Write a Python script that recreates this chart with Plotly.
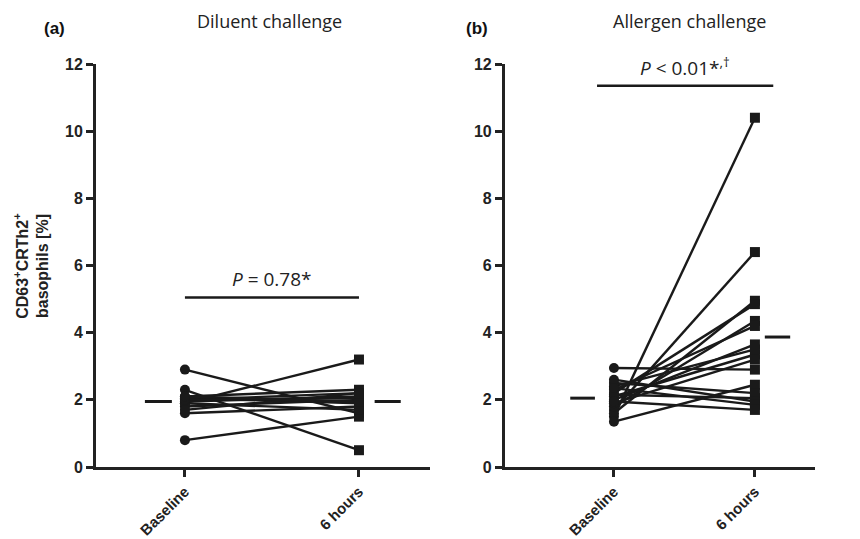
import plotly.graph_objects as go

# ---- data ----
categories = ["Baseline", "6 hours"]
diluent_baseline = [2.9, 2.3, 0.8, 1.9, 2.1, 2.0, 1.95, 2.05, 1.8, 1.6, 1.9, 2.0, 2.1, 1.7]
diluent_6h       = [1.6, 0.5, 1.5, 3.2, 2.3, 2.2, 2.1, 1.9, 2.0, 1.8, 1.7, 2.05, 1.95, 2.2]
allergen_baseline = [1.5, 1.7, 1.6, 2.2, 1.8, 2.3, 2.0, 2.4, 2.1, 1.9, 2.95, 1.35, 2.5, 2.15, 2.6, 2.35, 1.95]
allergen_6h       = [10.4, 6.4, 4.95, 4.85, 4.35, 4.2, 3.65, 3.5, 3.35, 3.2, 2.9, 2.45, 2.2, 2.05, 1.95, 1.85, 1.7]
diluent_means = [1.95, 1.95]
allergen_means = [2.05, 3.87]
y_ticks = [0, 2, 4, 6, 8, 10, 12]
titles = ["Diluent challenge", "Allergen challenge"]
p_texts = ["<i>P</i> = 0.78*", "<i>P</i> &lt; 0.01*<sup>,†</sup>"]
sig_levels = [5.05, 11.35]

INK = "#1a1a1a"
fig = go.Figure()

panels = [
    ("x", "y", diluent_baseline, diluent_6h, diluent_means),
    ("x2", "y2", allergen_baseline, allergen_6h, allergen_means),
]
mean_offsets = [((-0.23, -0.075), (1.09, 1.24)), ((-0.31, -0.135), (1.07, 1.25))]
sig_x = [(0.0, 1.0), (-0.12, 1.13)]

for i, (xa, ya, b, s, m) in enumerate(panels):
    for bv, sv in zip(b, s):
        fig.add_trace(go.Scatter(x=[0, 1], y=[bv, sv], xaxis=xa, yaxis=ya, mode="lines",
                                 line=dict(color=INK, width=2.4), showlegend=False,
                                 hoverinfo="skip"))
    fig.add_trace(go.Scatter(x=[0] * len(b), y=b, xaxis=xa, yaxis=ya, mode="markers",
                             marker=dict(symbol="circle", size=10, color=INK),
                             showlegend=False))
    fig.add_trace(go.Scatter(x=[1] * len(s), y=s, xaxis=xa, yaxis=ya, mode="markers",
                             marker=dict(symbol="square", size=10, color=INK),
                             showlegend=False))
    (l0, l1), (r0, r1) = mean_offsets[i]
    fig.add_trace(go.Scatter(x=[l0, l1], y=[m[0]] * 2, xaxis=xa, yaxis=ya, mode="lines",
                             line=dict(color=INK, width=3), showlegend=False))
    fig.add_trace(go.Scatter(x=[r0, r1], y=[m[1]] * 2, xaxis=xa, yaxis=ya, mode="lines",
                             line=dict(color=INK, width=3), showlegend=False))
    # significance bar
    fig.add_trace(go.Scatter(x=list(sig_x[i]), y=[sig_levels[i]] * 2, xaxis=xa, yaxis=ya,
                             mode="lines", line=dict(color=INK, width=2.5),
                             showlegend=False))
    fig.add_annotation(x=sum(sig_x[i]) / 2, y=sig_levels[i], xref=xa, yref=ya,
                       text=p_texts[i], showarrow=False, xanchor="center", yanchor="bottom",
                       yshift=3, font=dict(family="Open Sans", size=19, color="#222"))

axis_common = dict(showgrid=False, zeroline=False, showline=True, linewidth=3,
                   linecolor="#222", ticks="outside", ticklen=7, tickwidth=3,
                   tickcolor="#222", automargin=False)
font_bold = dict(family="Liberation Sans", size=16, color="#222")
font_bold_x = dict(family="Liberation Sans", size=15, color="#222")

fig.update_layout(
    width=860, height=539,
    margin=dict(l=88, r=53, t=56, b=80),
    plot_bgcolor="white", paper_bgcolor="white",
    xaxis=dict(domain=[0, 0.4645], range=[-0.511, 1.408], tickvals=[0, 1], anchor="y",
               ticktext=["<b>%s</b>" % c for c in categories], tickangle=-45,
               tickfont=font_bold_x, **axis_common),
    xaxis2=dict(domain=[0.5688, 1], range=[-0.773, 1.426], tickvals=[0, 1], anchor="y2",
                ticktext=["<b>%s</b>" % c for c in categories], tickangle=-45,
                tickfont=font_bold_x, **axis_common),
    yaxis=dict(range=[0, 12], tickvals=y_ticks, anchor="x",
               ticktext=["<b>%d</b>" % t for t in y_ticks], tickfont=font_bold,
               **axis_common),
    yaxis2=dict(range=[0, 12], tickvals=y_ticks, anchor="x2",
                ticktext=["<b>%d</b>" % t for t in y_ticks], tickfont=font_bold,
                **axis_common),
)

fig.add_annotation(x=-0.090, y=0.5, xref="paper", yref="paper", textangle=-90,
                   xanchor="center", yanchor="middle",
                   text="<b>CD63<sup>+</sup>CRTh2<sup>+</sup><br>basophils [%]</b>",
                   showarrow=False, font=dict(family="Liberation Sans", size=16, color="#222"))
fig.add_annotation(x=-0.058, y=1.088, xref="paper", yref="paper", text="<b>(a)</b>",
                   xanchor="center", yanchor="middle",
                   showarrow=False, font=dict(family="Liberation Sans", size=17, color="#111"))
fig.add_annotation(x=0.53, y=1.088, xref="paper", yref="paper", text="<b>(b)</b>",
                   xanchor="center", yanchor="middle",
                   showarrow=False, font=dict(family="Liberation Sans", size=17, color="#111"))
fig.add_annotation(x=0.242, y=1.106, xref="paper", yref="paper", text=titles[0],
                   xanchor="center", yanchor="middle",
                   showarrow=False, font=dict(family="Open Sans", size=18, color="#222"))
fig.add_annotation(x=0.826, y=1.106, xref="paper", yref="paper", text=titles[1],
                   xanchor="center", yanchor="middle",
                   showarrow=False, font=dict(family="Open Sans", size=18, color="#222"))

fig.write_html("out.html")
